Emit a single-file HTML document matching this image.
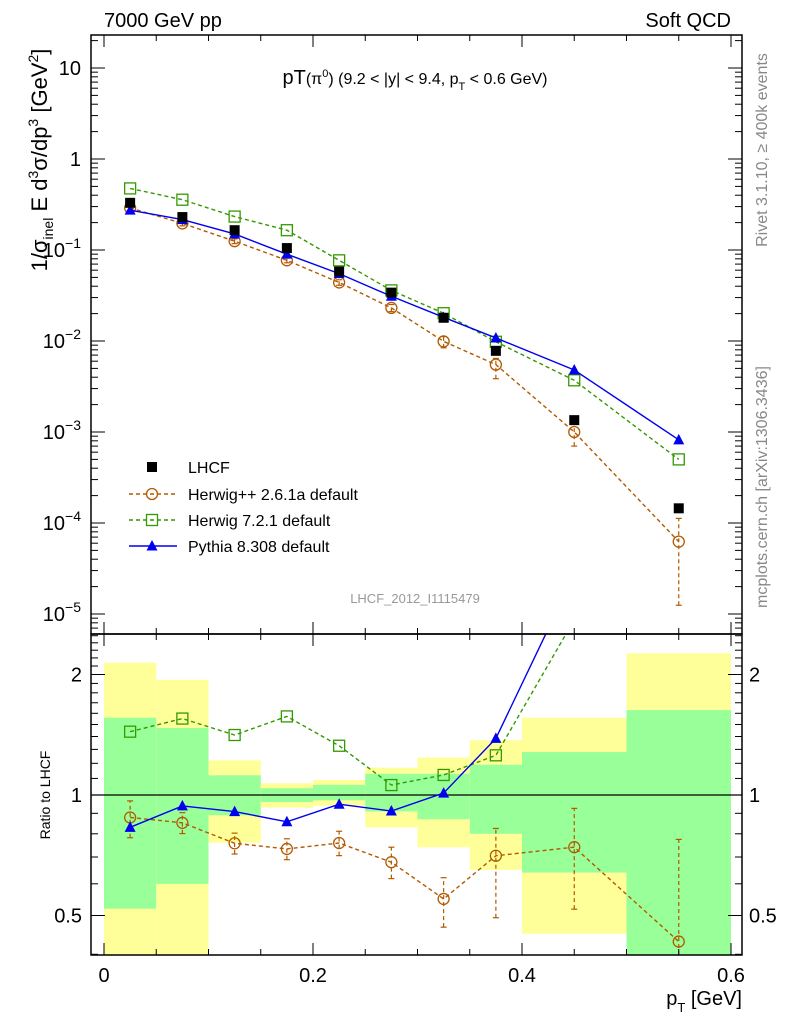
<!DOCTYPE html>
<html><head><meta charset="utf-8">
<style>
html,body{margin:0;padding:0;background:#fff;}
svg{display:block;font-family:"Liberation Sans",Arial,sans-serif;}
</style></head>
<body>
<svg id="chart" width="786" height="1024" viewBox="0 0 786 1024" xmlns="http://www.w3.org/2000/svg">
  <text x="104" y="27" font-size="20">7000 GeV pp</text>
  <text x="731" y="27" font-size="20" text-anchor="end">Soft QCD</text>
  <text x="415" y="84" font-size="16" text-anchor="middle"><tspan font-size="20">pT</tspan>(π<tspan font-size="11" dy="-7">0</tspan><tspan dy="7">) (9.2 &lt; |y| &lt; 9.4, p</tspan><tspan font-size="11" dy="6">T</tspan><tspan dy="-6"> &lt; 0.6 GeV)</tspan></text>
  <text x="415" y="603" font-size="13" fill="#999" text-anchor="middle">LHCF_2012_I1115479</text>
  <text transform="translate(767,150) rotate(-90)" font-size="16" fill="#888" text-anchor="middle">Rivet 3.1.10, ≥ 400k events</text>
  <text transform="translate(767,487) rotate(-90)" font-size="16" fill="#888" text-anchor="middle">mcplots.cern.ch [arXiv:1306.3436]</text>
  <text transform="translate(47,160) rotate(-90)" font-size="22" text-anchor="middle">1/σ<tspan font-size="14" dy="6">inel</tspan><tspan dy="-6"> E d</tspan><tspan font-size="14" dy="-9">3</tspan><tspan dy="9">σ/dp</tspan><tspan font-size="14" dy="-9">3</tspan><tspan dy="9"> [GeV</tspan><tspan font-size="14" dy="-9">2</tspan><tspan dy="9">]</tspan></text>
  <text transform="translate(50,795) rotate(-90)" font-size="14" text-anchor="middle">Ratio to LHCF</text>
  <text x="742" y="1005" font-size="20" text-anchor="end">p<tspan font-size="13" dy="7">T</tspan><tspan dy="-7"> [GeV]</tspan></text>
  <g id="bands"></g>
  <g id="main"></g>
  <g id="ratio"></g>
  <g id="axes"></g>
  <g id="legend"></g>
</svg>
<script>
const binLo = [0,0.05,0.1,0.15,0.2,0.25,0.3,0.35,0.4,0.5];
const binHi = [0.05,0.1,0.15,0.2,0.25,0.3,0.35,0.4,0.5,0.6];
const xCenters = [0.025,0.075,0.125,0.175,0.225,0.275,0.325,0.375,0.45,0.55];
const lhcf = [0.33,0.23,0.165,0.105,0.058,0.034,0.018,0.0078,0.00135,0.000145];
const herwigpp = [0.29,0.196,0.125,0.077,0.044,0.0231,0.0099,0.0055,0.0010,0.0000624];
const herwigppErrLo = [0.11,0.06,0.06,0.06,0.07,0.09,0.15,0.30,0.30,0.80];
const herwigppErrHi = [0.10,0.06,0.06,0.06,0.07,0.09,0.13,0.17,0.25,0.80];
const herwig7 = [0.475,0.357,0.233,0.165,0.077,0.036,0.0202,0.0098,0.0037,0.0005];
const pythia = [0.274,0.216,0.150,0.090,0.055,0.031,0.0182,0.0108,0.0048,0.00082];
const yellowLo = [0.35,0.35,0.76,0.93,0.94,0.83,0.74,0.65,0.45,0.35];
const yellowHi = [2.14,1.94,1.22,1.07,1.09,1.17,1.24,1.37,1.56,2.26];
const greenLo = [0.52,0.60,0.89,0.96,0.97,0.91,0.87,0.80,0.64,0.35];
const greenHi = [1.56,1.47,1.12,1.04,1.06,1.13,1.13,1.19,1.28,1.63];
const xTicks = [0,0.2,0.4,0.6];
const xTickLabels = ["0","0.2","0.4","0.6"];
const mainTickExp = [1,0,-1,-2,-3,-4,-5];
const ratioTicks = [2,1,0.5];
const ratioTickLabels = ["2","1","0.5"];

const NS="http://www.w3.org/2000/svg";
const L=91,R=742,T=35,MID=634,B=955;
const X=v=>104+(v/0.6)*627;
const Ym=v=>159-91*Math.log10(v);
const Yr=v=>795-120.5*Math.log2(v);
function mk(tag,attrs,parent){const e=document.createElementNS(NS,tag);for(const k in attrs)e.setAttribute(k,attrs[k]);parent.appendChild(e);return e;}
const gB=document.getElementById('bands'),gM=document.getElementById('main'),gR=document.getElementById('ratio'),gA=document.getElementById('axes'),gL=document.getElementById('legend');

for(let i=0;i<binLo.length;i++){
  const yl=Math.min(B,Yr(yellowLo[i])),yh=Math.max(MID,Yr(yellowHi[i]));
  const r1=mk('rect',{x:X(binLo[i]),y:yh,width:X(binHi[i])-X(binLo[i]),height:yl-yh,fill:'#ffff99'},gB);
  
  
  const gl=Math.min(B,Yr(greenLo[i])),gh=Math.max(MID,Yr(greenHi[i]));
  const r2=mk('rect',{x:X(binLo[i]),y:gh,width:X(binHi[i])-X(binLo[i]),height:gl-gh,fill:'#99ff99'},gB);
  
  
}
mk('line',{x1:L,x2:R,y1:Yr(1),y2:Yr(1),stroke:'#000','stroke-width':1.3},gB);

function marker(type,cx,cy,color,parent,name){
  let e;
  if(type==='sq') e=mk('rect',{x:cx-5,y:cy-5,width:10,height:10,fill:'#000'},parent);
  else if(type==='circ') e=mk('circle',{cx:cx,cy:cy,r:5.5,fill:'none',stroke:color,'stroke-width':1.3},parent);
  else if(type==='osq') e=mk('rect',{x:cx-5.5,y:cy-5.5,width:11,height:11,fill:'none',stroke:color,'stroke-width':1.3},parent);
  else e=mk('polygon',{points:`${cx},${cy-6} ${cx-5.5},${cy+4.5} ${cx+5.5},${cy+4.5}`,fill:color},parent);
  
  
}
function series(vals,Y,color,dash,type,parent,name,clipTop,clipBot){
  const pts=xCenters.map((x,i)=>[X(x),Y(vals[i])]);
  const cp=mk('clipPath',{id:'c'+name},parent);
  mk('rect',{x:L,y:clipTop,width:R-L,height:clipBot-clipTop},cp);
  const pl=mk('polyline',{points:pts.map(p=>p.join(',')).join(' '),fill:'none',stroke:color,'stroke-width':1.4,'stroke-dasharray':dash,'clip-path':`url(#c${name})`},parent);
  
  
  pts.forEach(p=>{if(p[1]>=clipTop&&p[1]<=clipBot)marker(type,p[0],p[1],color,parent,name+'-point');});
}
function errs(vals,Y,color,parent,name,clipTop,clipBot){
  xCenters.forEach((x,i)=>{
    const v=vals[i];const lo=Math.max(v*(1-herwigppErrLo[i]),1e-9),hi=v*(1+herwigppErrHi[i]);
    const y1=Math.min(clipBot,Y(lo)),y2=Math.max(clipTop,Y(hi));
    const e=mk('line',{x1:X(x),x2:X(x),y1:y1,y2:y2,stroke:color,'stroke-width':1.2,'stroke-dasharray':'4,3'},parent);
    
    
    mk('line',{x1:X(x)-3,x2:X(x)+3,y1:y2,y2:y2,stroke:color,'stroke-width':1.2},parent);
    if(y1<clipBot)mk('line',{x1:X(x)-3,x2:X(x)+3,y1:y1,y2:y1,stroke:color,'stroke-width':1.2},parent);
  });
}
const cH='#b35900',cG='#339900',cP='#0000ee';
errs(herwigpp,Ym,cH,gM,'herwigpp',T,MID);
series(herwigpp,Ym,cH,'4,3','circ',gM,'herwigpp',T,MID);
series(herwig7,Ym,cG,'4,3','osq',gM,'herwig7',T,MID);
series(pythia,Ym,cP,'','tri',gM,'pythia',T,MID);
xCenters.forEach((x,i)=>marker('sq',X(x),Ym(lhcf[i]),'#000',gM,'lhcf-point'));
const rH=herwigpp.map((v,i)=>v/lhcf[i]),r7=herwig7.map((v,i)=>v/lhcf[i]),rP=pythia.map((v,i)=>v/lhcf[i]);
errs(rH,Yr,cH,gR,'herwigpp-ratio',MID,B);
series(rH,Yr,cH,'4,3','circ',gR,'herwigpp-ratio',MID,B);
series(r7,Yr,cG,'4,3','osq',gR,'herwig7-ratio',MID,B);
series(rP,Yr,cP,'','tri',gR,'pythia-ratio',MID,B);

[[T,MID],[MID,B]].forEach(([a,b],k)=>{
  const f=mk('rect',{x:L,y:a,width:R-L,height:b-a,fill:'none',stroke:'#000','stroke-width':1.5},gA);
  
  
});
for(let v=0;v<=0.6001;v+=0.05){
  const maj=Math.abs(v/0.2-Math.round(v/0.2))<1e-6;const len=maj?12:6;
  [T,MID].forEach(y=>mk('line',{x1:X(v),x2:X(v),y1:y,y2:y+len,stroke:'#000'},gA));
  [MID,B].forEach(y=>mk('line',{x1:X(v),x2:X(v),y1:y,y2:y-len,stroke:'#000'},gA));
}
xTicks.forEach((v,i)=>{const t=mk('text',{x:X(v),y:982,'font-size':20,'text-anchor':'middle'},gA);t.textContent=xTickLabels[i];});
for(let e=-6;e<=1;e++){for(let m=1;m<10;m++){const v=m*Math.pow(10,e);const y=Ym(v);if(y<T||y>MID)continue;const len=m===1?14:7;
  mk('line',{x1:L,x2:L+len,y1:y,y2:y,stroke:'#000'},gA);mk('line',{x1:R,x2:R-len,y1:y,y2:y,stroke:'#000'},gA);}}
mainTickExp.forEach((e)=>{
  const y=Ym(Math.pow(10,e))+7;
  const t=mk('text',{x:81,y:y,'font-size':20,'text-anchor':'end'},gA);
  
  
  if(e===1)t.textContent='10';
  else if(e===0)t.textContent='1';
  else{t.textContent='10';const s=mk('tspan',{'font-size':14,dy:-9},t);s.textContent='−'+(-e);}
});
for(let v=0.4;v<=2.51;v+=0.1){const y=Yr(v);if(y<MID||y>B)continue;const r=Math.round(v*10);const maj=(r===5||r===10||r===20);const len=maj?14:7;
  mk('line',{x1:L,x2:L+len,y1:y,y2:y,stroke:'#000'},gA);mk('line',{x1:R,x2:R-len,y1:y,y2:y,stroke:'#000'},gA);}
ratioTicks.forEach((v,i)=>{
  const t=mk('text',{x:82,y:Yr(v)+7,'font-size':20,'text-anchor':'end'},gA);t.textContent=ratioTickLabels[i];
  const t2=mk('text',{x:749,y:Yr(v)+7,'font-size':20},gA);t2.textContent=ratioTickLabels[i];
});
const legNames=["LHCF","Herwig++ 2.6.1a default","Herwig 7.2.1 default","Pythia 8.308 default"];
const legTypes=['sq','circ','osq','tri'],legColors=['#000',cH,cG,cP],legDash=[null,'4,3','4,3',''];
const legY=[467,494,520,546];
legNames.forEach((n,i)=>{
  const y=legY[i];
  if(legDash[i]!==null){mk('line',{x1:129,x2:177,y1:y,y2:y,stroke:legColors[i],'stroke-width':1.4,'stroke-dasharray':legDash[i]},gL);}
  marker(legTypes[i],152,y,legColors[i],gL,'legend-marker');
  const t=mk('text',{x:188,y:y+6,'font-size':16},gL);t.textContent=n;
  
  
});
</script>
</body></html>
